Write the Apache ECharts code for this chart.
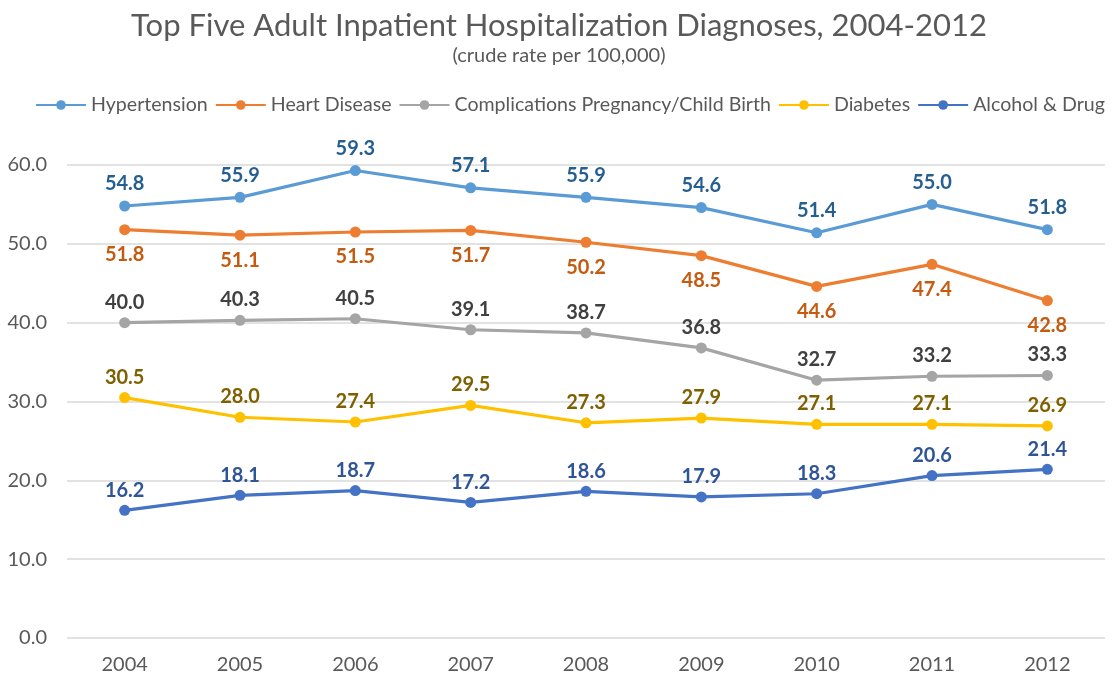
<!DOCTYPE html>
<html>
<head>
<meta charset="utf-8">
<title>Top Five Adult Inpatient Hospitalization Diagnoses, 2004-2012</title>
<script src="https://cdn.jsdelivr.net/npm/echarts@6/dist/echarts.min.js"></script>
<style>
  html, body { margin: 0; padding: 0; background: #ffffff; }
  #chart { width: 1118px; height: 675px; }
</style>
</head>
<body>
<div id="chart"></div>
<script>
// Years on the category axis
const years = ['2004', '2005', '2006', '2007', '2008', '2009', '2010', '2011', '2012'];

// Crude rate per 100,000 for each diagnosis
const hypertension = [54.8, 55.9, 59.3, 57.1, 55.9, 54.6, 51.4, 55.0, 51.8];
const heartDisease = [51.8, 51.1, 51.5, 51.7, 50.2, 48.5, 44.6, 47.4, 42.8];
const pregnancy    = [40.0, 40.3, 40.5, 39.1, 38.7, 36.8, 32.7, 33.2, 33.3];
const diabetes     = [30.5, 28.0, 27.4, 29.5, 27.3, 27.9, 27.1, 27.1, 26.9];
const alcoholDrug  = [16.2, 18.1, 18.7, 17.2, 18.6, 17.9, 18.3, 20.6, 21.4];

const FONT = 'Lato, "Open Sans", sans-serif';

function lineSeries(name, data, color, labelColor, position, distance) {
  return {
    name: name,
    type: 'line',
    data: data,
    symbol: 'circle',
    symbolSize: 11,
    color: color,
    lineStyle: { width: 3.2, color: color },
    itemStyle: { color: color },
    label: {
      show: true,
      position: position,
      distance: distance,
      color: labelColor,
      fontFamily: FONT,
      fontWeight: 'bold',
      fontSize: 20,
      formatter: p => p.value.toFixed(1)
    },
    emphasis: { disabled: true },
    animation: false
  };
}

const chart = echarts.init(document.getElementById('chart'), null, { renderer: 'canvas' });

chart.setOption({
  backgroundColor: '#ffffff',
  title: [
    {
      text: 'Top Five Adult Inpatient Hospitalization Diagnoses, 2004-2012',
      left: 'center',
      top: 5,
      textStyle: { fontFamily: FONT, fontSize: 31, fontWeight: 'normal', color: '#595959' }
    },
    {
      text: '(crude rate per 100,000)',
      left: 'center',
      top: 41,
      textStyle: { fontFamily: FONT, fontSize: 20, fontWeight: 'normal', color: '#595959' }
    }
  ],
  legend: {
    top: 95,
    left: 35,
    right: 0,
    padding: 0,
    itemWidth: 50,
    itemHeight: 12,
    itemGap: 7,
    textStyle: { fontFamily: FONT, fontSize: 19.6, color: '#595959' },
    data: ['Hypertension', 'Heart Disease', 'Complications Pregnancy/Child Birth', 'Diabetes', 'Alcohol & Drug']
  },
  grid: { left: 67, right: 13, top: 165, bottom: 37, containLabel: false },
  xAxis: {
    type: 'category',
    data: years,
    boundaryGap: true,
    axisLine: { show: false },
    axisTick: { show: false },
    axisLabel: { fontFamily: FONT, fontSize: 20, color: '#595959', margin: 17 }
  },
  yAxis: {
    type: 'value',
    min: 0,
    max: 60,
    interval: 10,
    axisLine: { show: false },
    axisTick: { show: false },
    splitLine: { lineStyle: { color: '#d9d9d9', width: 1.5 } },
    axisLabel: {
      fontFamily: FONT, fontSize: 20, color: '#595959', margin: 20,
      formatter: v => v.toFixed(1)
    }
  },
  series: [
    lineSeries('Hypertension', hypertension, '#5B9BD5', '#255E91', 'top', 6.5),
    lineSeries('Heart Disease', heartDisease, '#ED7D31', '#C55A11', 'bottom', 9.5),
    lineSeries('Complications Pregnancy/Child Birth', pregnancy, '#A5A5A5', '#404040', 'top', 5),
    lineSeries('Diabetes', diabetes, '#FFC000', '#7F6000', 'top', 5),
    lineSeries('Alcohol & Drug', alcoholDrug, '#4472C4', '#2F5597', 'top', 4.5)
  ]
});
</script>
</body>
</html>
